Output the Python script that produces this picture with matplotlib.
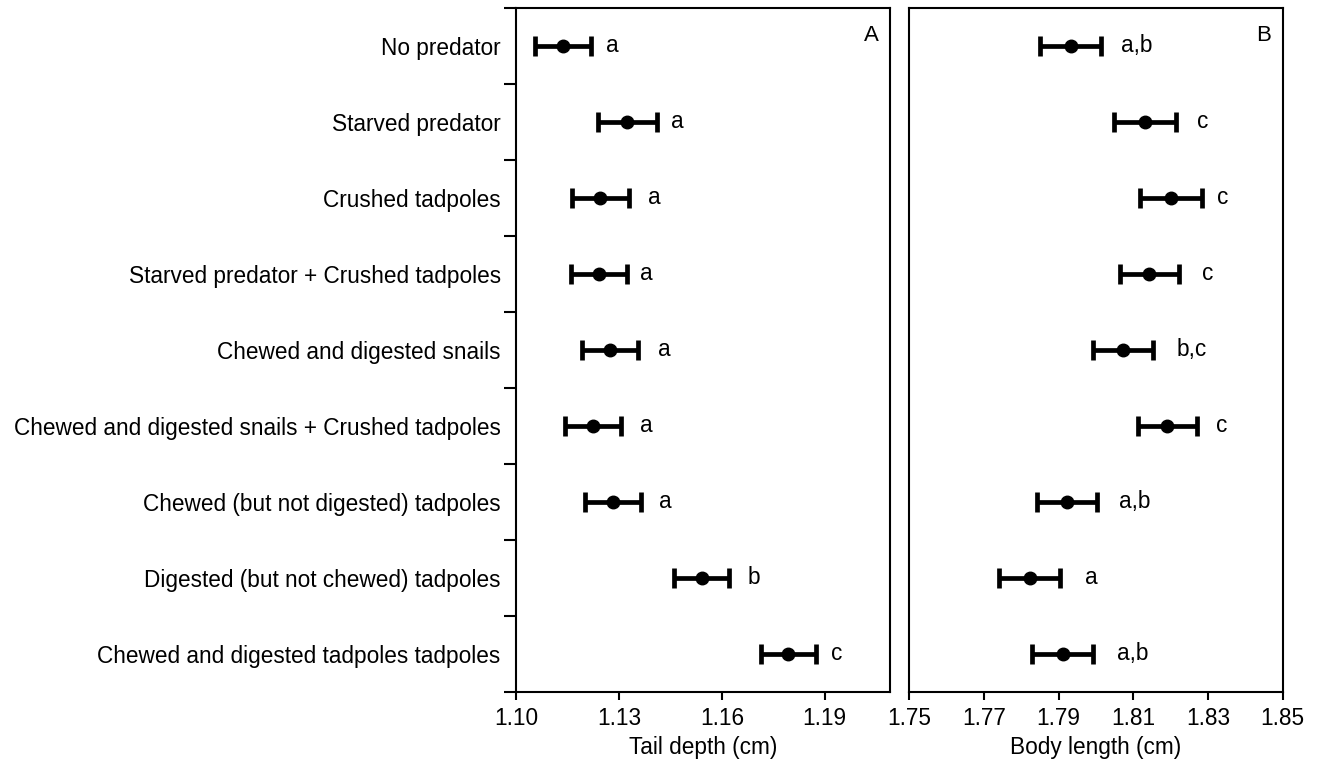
import numpy as np
import matplotlib.pyplot as plt

plt.rcParams['font.family'] = ['Liberation Sans', 'DejaVu Sans']

treatments = [
    'No predator',
    'Starved predator',
    'Crushed tadpoles',
    'Starved predator + Crushed tadpoles',
    'Chewed and digested snails',
    'Chewed and digested snails + Crushed tadpoles',
    'Chewed (but not digested) tadpoles',
    'Digested (but not chewed) tadpoles',
    'Chewed and digested tadpoles tadpoles',
]

# panel A: tail depth
tail_mean = [1.1136, 1.1325, 1.1245, 1.1243, 1.1274, 1.1225, 1.1283, 1.1541, 1.1793]
tail_err = [0.0082, 0.0085, 0.0083, 0.0082, 0.0082, 0.0081, 0.0081, 0.0081, 0.0080]
tail_letters = ['a', 'a', 'a', 'a', 'a', 'a', 'a', 'b', 'c']
tail_letter_x = [1.1262, 1.1451, 1.1384, 1.1361, 1.1413, 1.1361, 1.1417, 1.1676, 1.1918]

# panel B: body length
body_mean = [1.7932, 1.8131, 1.8201, 1.8143, 1.8073, 1.8191, 1.7922, 1.7823, 1.7911]
body_err = [0.0081, 0.0082, 0.0083, 0.0079, 0.0080, 0.0079, 0.0080, 0.0082, 0.0081]
body_letters = ['a,b', 'c', 'c', 'c', 'b,c', 'c', 'a,b', 'a', 'a,b']
body_letter_x = [1.8066, 1.8270, 1.8323, 1.8283, 1.8216, 1.8321, 1.8062, 1.7971, 1.8057]

fs = 16.3
pos = np.arange(len(treatments))

fig = plt.figure(figsize=(13.21, 7.61), dpi=100)
axA = fig.add_axes([0.3906, 0.0907, 0.2831, 0.8988])
axB = fig.add_axes([0.6883, 0.0907, 0.2827, 0.8988])

panels = [
    (axA, tail_mean, tail_err, tail_letters, tail_letter_x, (1.10, 1.209),
     [1.10, 1.13, 1.16, 1.19], 'Tail depth (cm)', 'A'),
    (axB, body_mean, body_err, body_letters, body_letter_x, (1.75, 1.85),
     [1.75, 1.77, 1.79, 1.81, 1.83, 1.85], 'Body length (cm)', 'B'),
]

for ax, m, e, lets, lx, xl, xt, xlab, tag in panels:
    ax.errorbar(m, pos, xerr=e, fmt='o', color='black', ms=9, elinewidth=3.4,
                capsize=7.5, capthick=3.4)
    for i in range(len(pos)):
        ax.text(lx[i], pos[i], lets[i], fontsize=fs, ha='left', va='center')
    ax.set_xlim(*xl)
    ax.set_ylim(8.5, -0.5)
    ax.set_xticks(xt)
    ax.set_xticklabels(['%.2f' % v for v in xt], fontsize=fs)
    ax.set_xlabel(xlab, fontsize=fs, labelpad=4)
    ax.tick_params(axis='x', direction='out', length=6, width=1.5, pad=5)
    for s in ax.spines.values():
        s.set_linewidth(1.5)
    ax.text(0.97, 0.975, tag, transform=ax.transAxes, fontsize=16,
            ha='right', va='top')

# y axis on panel A: ticks between groups, labels at group centres
axA.set_yticks(np.arange(-0.5, len(pos)), minor=False)
axA.set_yticklabels([])
axA.set_yticks(pos, minor=True)
axA.set_yticklabels(treatments, minor=True, fontsize=fs)
axA.tick_params(axis='y', which='major', direction='out', length=9, width=1.5)
axA.tick_params(axis='y', which='minor', length=0, pad=11)

axB.set_yticks([])

fig.savefig('out.png', dpi=100)
